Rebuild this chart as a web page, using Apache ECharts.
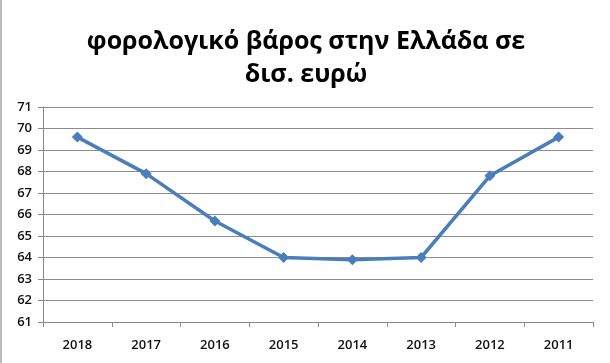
<!DOCTYPE html>
<html><head><meta charset="utf-8">
<script src="https://cdn.jsdelivr.net/npm/echarts@6/dist/echarts.min.js"></script>
<style>html,body{margin:0;padding:0;background:#fff}#c{width:610px;height:363px;box-sizing:border-box;border-left:2px solid #bbb}</style>
</head><body><div id="c"></div>
<script>
const titleText = 'φορολογικό βάρος στην Ελλάδα σε\nδισ. ευρώ';
const categories = ['2018','2017','2016','2015','2014','2013','2012','2011'];
const values = [69.6, 67.9, 65.7, 64.0, 63.9, 64.0, 67.8, 69.6];
const yMin = 61, yMax = 71, yStep = 1;

const chart = echarts.init(document.getElementById('c'), null, {renderer:'canvas'});
chart.setOption({
  animation:false,
  backgroundColor:'#fff',
  title:{
    text:titleText, left:'center', top:20,
    textStyle:{fontFamily:'Open Sans', fontWeight:'bold', fontSize:25, color:'#000', lineHeight:33}
  },
  grid:{left:41, right:17, top:107, bottom:41},
  xAxis:{
    type:'category', data:categories, boundaryGap:true,
    axisLine:{lineStyle:{color:'#888', width:1}},
    axisTick:{show:true, length:5, lineStyle:{color:'#888'}},
    axisLabel:{color:'#111', fontFamily:'Open Sans', fontSize:13, fontWeight:600, margin:17}
  },
  yAxis:{
    type:'value', min:yMin, max:yMax, interval:yStep,
    axisLine:{show:true, lineStyle:{color:'#888', width:1}},
    axisTick:{show:true, length:5, lineStyle:{color:'#888'}},
    splitLine:{lineStyle:{color:'#8c8c8c', width:1}},
    axisLabel:{color:'#111', fontFamily:'Open Sans', fontSize:13, fontWeight:600, margin:11}
  },
  series:[{
    type:'line', data:values,
    symbol:'diamond', symbolSize:11,
    lineStyle:{color:'#4a7ebb', width:3.5},
    itemStyle:{color:'#4a7ebb'}
  }]
});
</script></body></html>
